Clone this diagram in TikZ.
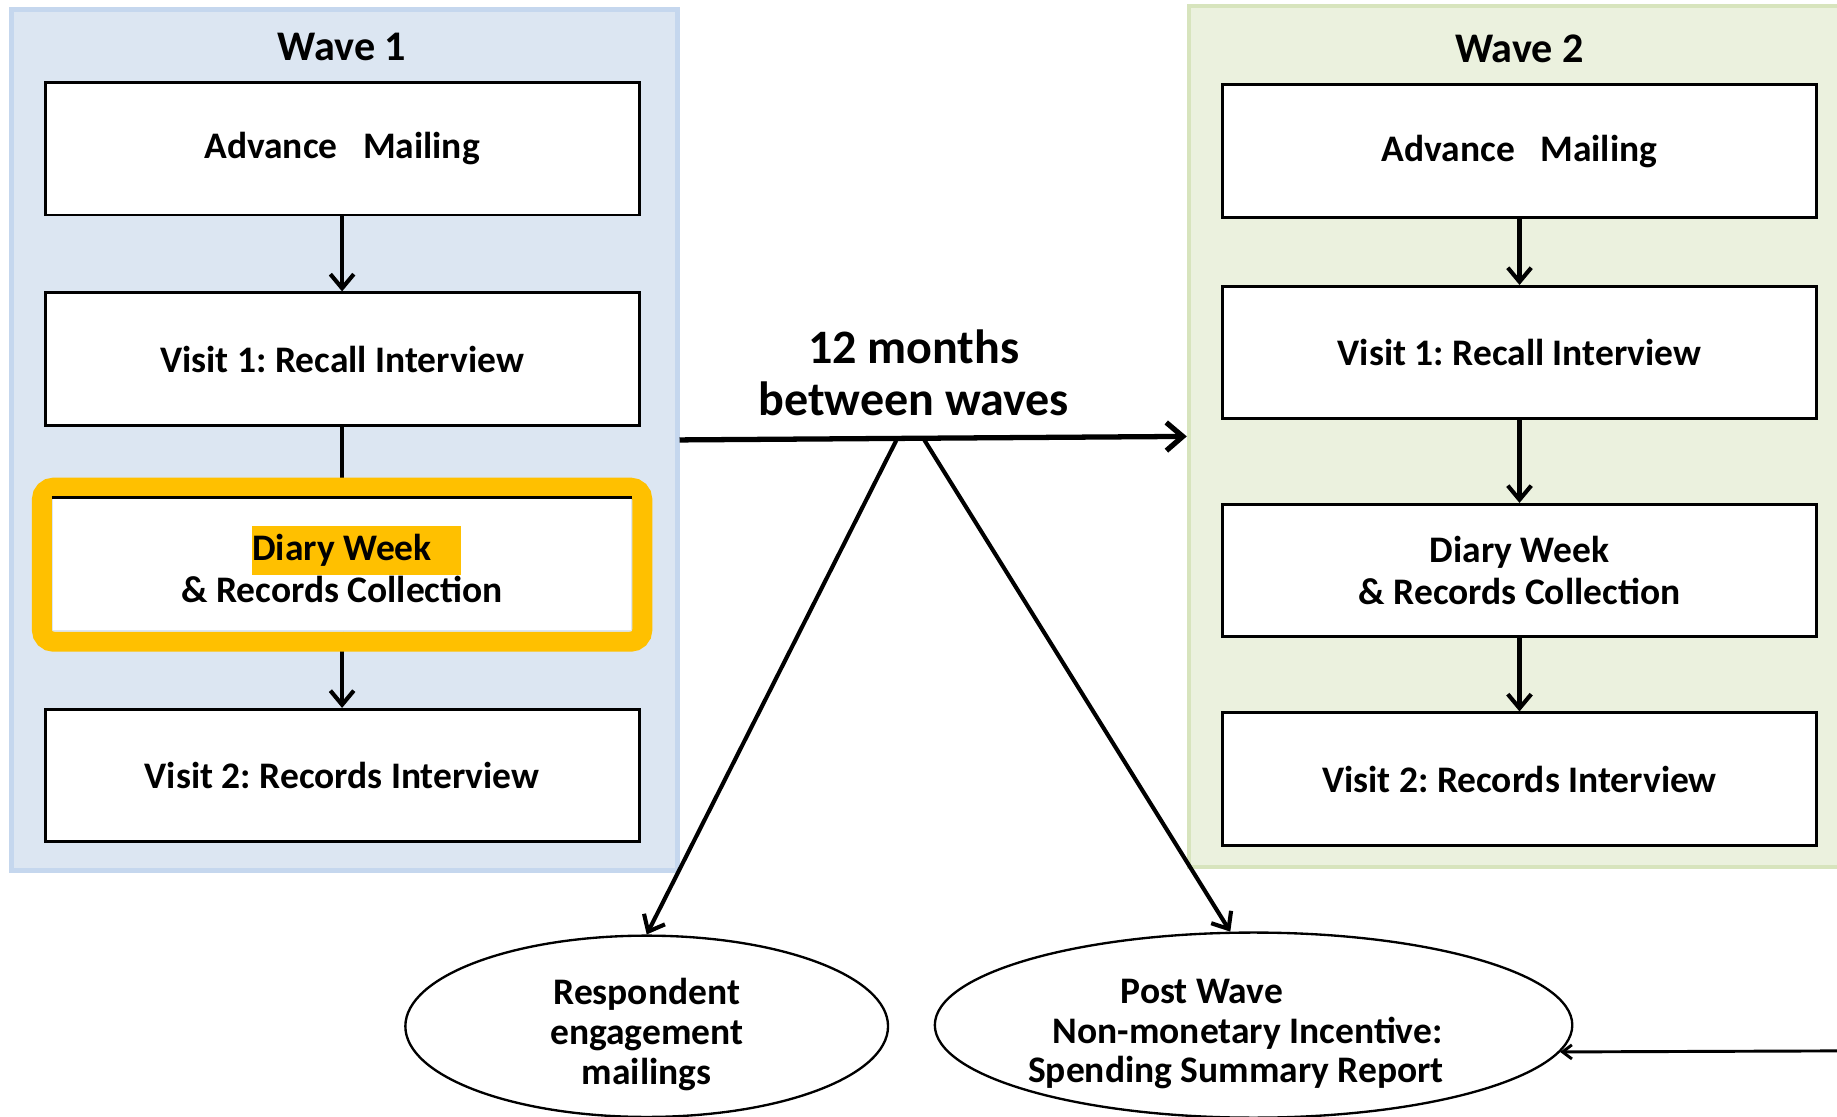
\documentclass[tikz,border=0pt]{standalone}
\usepackage{xcolor}
\usepackage{fontspec}
\setmainfont{Carlito}
\frenchspacing
\usetikzlibrary{arrows.meta,shapes.geometric,positioning}

\definecolor{wavebluefill}{RGB}{220,230,242}
\definecolor{wavebluerim}{RGB}{197,215,238}
\definecolor{wavegreenfill}{RGB}{235,241,222}
\definecolor{wavegreenrim}{RGB}{215,228,189}
\definecolor{diaryamber}{RGB}{255,192,0}

\begin{document}
\begin{tikzpicture}[x=1pt,y=-1pt,
    >={Straight Barb[length=12pt,width=20pt,line width=3.5pt]},
    panel/.style={draw,line width=4pt,minimum width=#1,minimum height=735pt,inner sep=0pt},
    stage/.style={draw,line width=2.5pt,fill=white,minimum width=507pt,minimum height=113pt,
        align=center,font=\fontsize{32}{36}\selectfont\bfseries},
    wavetitle/.style={font=\fontsize{36}{40}\selectfont\bfseries},
    followup/.style={draw,ellipse,line width=2pt,fill=white,inner sep=0pt,
        font=\fontsize{32}{34}\selectfont\bfseries},
    flow/.style={->,line width=3.5pt}]
    \useasboundingbox (0,0) rectangle (1568,953);
    \node[panel=568pt,fill=wavebluefill,draw=wavebluerim] (p1) at (294,375.5) {};
    \node[panel=625pt,fill=wavegreenfill,draw=wavegreenrim] (p2) at (1327.5,372.5) {};
    \node[wavetitle] (t1) at (292,40) {Wave 1};
    \node[wavetitle] (t2) at (1297,42) {Wave 2};
    \path
        (292,127)     node[stage] (am1) {Advance\ \ \ Mailing}
     ++ (0,179.5)     node[stage] (rv1) {Visit 1: Recall Interview}
     ++ (0,175.5)     node[stage,draw=none,minimum width=493pt,minimum height=112pt] (dw1)
                      {{\fboxsep=0pt\colorbox{diaryamber}{\rule[-12pt]{0pt}{41pt}Diary Week\hspace{25pt}}\hspace*{-25pt}}\\\& Records Collection}
     ++ (0,180)       node[stage] (ri1) {Visit 2: Records Interview}
     ;
    \path
        (1297,129)    node[stage] (am2) {Advance\ \ \ Mailing}
     ++ (0,172)       node[stage] (rv2) {Visit 1: Recall Interview}
     ++ (0,186)       node[stage] (dw2) {Diary Week\\\& Records Collection}
     ++ (0,178)       node[stage] (ri2) {Visit 2: Records Interview}
     ;
    \draw [flow] (am1)--(rv1);
    \draw [flow] (rv1)--(dw1);
    \draw [flow] (dw1)--(ri1);
    \draw [flow] (am2)--(rv2);
    \draw [flow] (rv2)--(dw2);
    \draw [flow] (dw2)--(ri2);
    \draw [diaryamber,line width=17pt,rounded corners=10pt]
        ([shift={(-8.5,-8.5)}]dw1.north west) rectangle ([shift={(8.5,8.5)}]dw1.south east);
    \draw [line width=2.5pt] (dw1.north west)--(dw1.north east);
    \draw [->,line width=4.5pt,>={Straight Barb[length=14pt,width=24pt,line width=4.5pt]}] (p1.east)--(p2.west);
    \node[font=\fontsize{41}{44}\selectfont\bfseries,align=center] (gap) at (780,318) {12 months\\between waves};
    \coordinate (s1) at (765,376);
    \coordinate (s2) at (788,374);
    \node[followup,align=center,minimum width=412pt,minimum height=154pt] (e1) at (552,876)
        {\rule{0pt}{36pt}Respondent\\engagement\\mailings};
    \node[followup,align=left,minimum width=540pt,minimum height=158pt] (e2) at (1070,875)
        {\hspace*{79pt}\rule{0pt}{36pt}Post Wave\\\hspace*{21pt}Non-monetary Incentive:\\Spending Summary Report\rule{30pt}{0pt}};
    \draw [flow] (s1)--(e1.north);
    \draw [flow] (s2)--(e2.104);
    \coordinate (r) at (1568,897);
    \draw [->,line width=2.5pt,>={Straight Barb[length=8pt,width=12pt,line width=2.5pt]}] (r)--(e2.-5);
\end{tikzpicture}
\end{document}
